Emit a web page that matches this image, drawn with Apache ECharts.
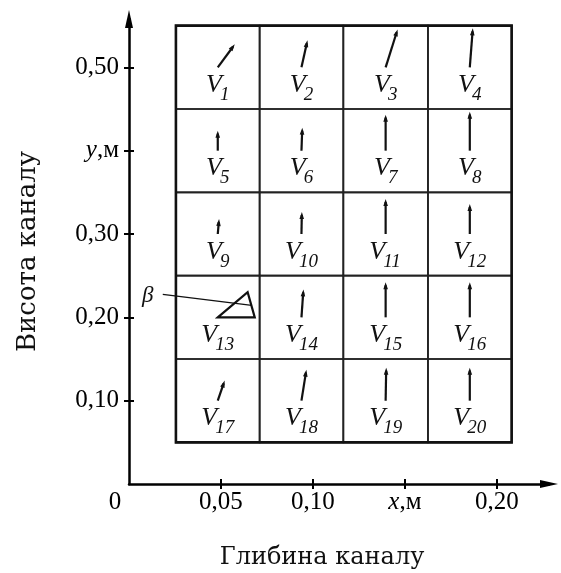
<!DOCTYPE html>
<html><head><meta charset="utf-8">
<script src="https://cdn.jsdelivr.net/npm/echarts@6/dist/echarts.min.js"></script>
<style>html,body{margin:0;padding:0;background:#fff}#c{width:561px;height:573px}</style>
</head><body><div id="c"></div>
<script>
// ---- data ----
const colEdges = [0.0255, 0.071, 0.1165, 0.1625, 0.208];   // x, m
const rowEdges = [0.55, 0.45, 0.35, 0.25, 0.15, 0.05];      // y, m (top to bottom)
const vectorNames = ['1','2','3','4','5','6','7','8','9','10','11','12','13','14','15','16','17','18','19','20'];
const speeds = [0.286, 0.277, 0.398, 0.391, 0.20, 0.23, 0.36, 0.39, 0.15, 0.22, 0.35, 0.30, 0.39, 0.28, 0.35, 0.35, 0.212, 0.314, 0.33, 0.33];
const angles = [36.5, 12.5, 17.5, 4.4, 0, 2, 0, 0, 5, 1, 0, 0, 50, 4, 0, 0, 19, 9, 1, 0]; // deg from vertical
const betaVector = '13';
const betaHorizontal = 0.37;
const xTickValues = [0.05, 0.10, 0.15, 0.20];
const xTickLabels = ['0,05', '0,10', 'x,м', '0,20'];
const yTickValues = [0.10, 0.20, 0.30, 0.40, 0.50];
const yTickLabels = ['0,10', '0,20', '0,30', 'y,м', '0,50'];
const originLabel = '0';
const xTitle = 'Глибина каналу';
const yTitle = 'Висота каналу';

// ---- build ----
const SCALE = 100; // px per velocity unit
const cells = [];
for (let i = 0; i < vectorNames.length; i++) {
  const r = Math.floor(i / 4), c = i % 4;
  cells.push([colEdges[c], colEdges[c + 1], rowEdges[r], rowEdges[r + 1], speeds[i], angles[i], vectorNames[i]]);
}
const SERIF = '"Liberation Serif", "Times New Roman", serif';
function fmt(values, labels) {
  return function (v) {
    if (Math.abs(v) < 1e-9) return '{o|' + originLabel + '}';
    for (let i = 0; i < values.length; i++) {
      if (Math.abs(values[i] - v) < 1e-7) {
        const s = labels[i];
        if (/^[xy],/.test(s)) return '{i|' + s[0] + '}' + s.slice(1);
        return s;
      }
    }
    return '';
  };
}
const labelRich = {
  i: { fontFamily: SERIF, fontStyle: 'italic', fontSize: 25, color: '#000' },
  o: { fontFamily: SERIF, fontSize: 25, color: '#000', padding: [0, 28, 0, 0] }
};

function renderCell(params, api) {
  const p0 = api.coord([api.value(0), api.value(2)]);
  const p1 = api.coord([api.value(1), api.value(3)]);
  const cx = (p0[0] + p1[0]) / 2, cy = (p0[1] + p1[1]) / 2;
  const sp = api.value(4) * SCALE, ang = api.value(5) * Math.PI / 180;
  const ux = Math.sin(ang), uy = -Math.cos(ang);
  const tip = [cx + sp * ux, cy + sp * uy];
  const name = cells[params.dataIndex][6];
  const children = [{
    type: 'rect', shape: { x: p0[0], y: p0[1], width: p1[0] - p0[0], height: p1[1] - p0[1] },
    style: { fill: null, stroke: '#222', lineWidth: 1.7 }
  }];
  if (name === betaVector) {
    const h = [cx + betaHorizontal * SCALE, cy];
    children.push({ type: 'polygon', shape: { points: [[cx, cy], tip, h] },
      style: { fill: null, stroke: '#111', lineWidth: 2.2 } });
    children.push({ type: 'line', shape: { x1: cx - 55, y1: cy - 23, x2: cx + 34, y2: cy - 12 },
      style: { stroke: '#111', lineWidth: 1.4 } });
    children.push({ type: 'text', x: cx - 70, y: cy - 21,
      style: { text: 'β', font: 'italic 23px ' + SERIF, fill: '#111', align: 'center', verticalAlign: 'middle' } });
  } else {
    const L = 7, W = 2.3;
    const bx = tip[0] - L * ux, by = tip[1] - L * uy;
    children.push({ type: 'line', shape: { x1: cx, y1: cy, x2: tip[0] - 3 * ux, y2: tip[1] - 3 * uy },
      style: { stroke: '#111', lineWidth: 2.2 } });
    children.push({ type: 'polygon', shape: { points: [tip, [bx - W * uy, by + W * ux], [bx + W * uy, by - W * ux]] },
      style: { fill: '#111', stroke: null } });
  }
  // label V with subscript
  const vW = 16, dW = 9.5;
  const total = vW + dW * name.length - 2;
  const left = cx - total / 2;
  children.push({ type: 'text', x: left, y: cy + 5,
    style: { text: 'V', font: 'italic 26px ' + SERIF, fill: '#111', align: 'left', verticalAlign: 'top' } });
  children.push({ type: 'text', x: left + vW - 2, y: cy + 18,
    style: { text: name, font: 'italic 19px ' + SERIF, fill: '#111', align: 'left', verticalAlign: 'top' } });
  return { type: 'group', children };
}

const chart = echarts.init(document.getElementById('c'), null, { renderer: 'canvas' });
chart.setOption({
  animation: false,
  backgroundColor: '#fff',
  grid: { left: 129, right: 12, top: 19, bottom: 89, containLabel: false, outerBoundsMode: 'none' },
  xAxis: [{
    type: 'value', min: 0, max: 0.2283, position: 'bottom',
    axisLine: { show: true, onZero: false, lineStyle: { color: '#000', width: 2.5 }, symbol: ['none', 'triangle'], symbolSize: [8, 18] },
    axisTick: { show: true, inside: false, length: 5, lineStyle: { color: '#000', width: 2 }, customValues: xTickValues },
    axisLabel: { show: true, customValues: [0].concat(xTickValues), formatter: fmt(xTickValues, xTickLabels), margin: 6,
      fontFamily: SERIF, fontSize: 25, color: '#000', rich: labelRich },
    splitLine: { show: false },
    name: xTitle, nameLocation: 'middle', nameGap: 62,
    nameTextStyle: { fontFamily: '"DejaVu Serif", serif', fontSize: 24, color: '#111', padding: [0, 34, 0, 0] }
  }, {
    type: 'value', min: 0, max: 0.2283, position: 'bottom',
    axisLine: { show: false }, axisLabel: { show: false }, splitLine: { show: false },
    axisTick: { show: true, inside: true, length: 5, lineStyle: { color: '#000', width: 2 }, customValues: xTickValues }
  }],
  yAxis: [{
    type: 'value', min: 0, max: 0.558, position: 'left',
    axisLine: { show: true, onZero: false, lineStyle: { color: '#000', width: 2.5 }, symbol: ['none', 'triangle'], symbolSize: [8, 18] },
    axisTick: { show: true, inside: false, length: 5, lineStyle: { color: '#000', width: 2 }, customValues: yTickValues },
    axisLabel: { show: true, customValues: yTickValues, formatter: fmt(yTickValues, yTickLabels), margin: 10,
      fontFamily: SERIF, fontSize: 25, color: '#000', rich: labelRich },
    splitLine: { show: false },
    name: yTitle, nameLocation: 'middle', nameGap: 88, nameRotate: 90,
    nameTextStyle: { fontFamily: '"DejaVu Serif", serif', fontSize: 26, color: '#111' }
  }, {
    type: 'value', min: 0, max: 0.558, position: 'left',
    axisLine: { show: false }, axisLabel: { show: false }, splitLine: { show: false },
    axisTick: { show: true, inside: true, length: 5, lineStyle: { color: '#000', width: 2 }, customValues: yTickValues }
  }],
  series: [{
    type: 'custom', xAxisIndex: 0, yAxisIndex: 0, data: cells, renderItem: renderCell, clip: false, silent: true
  }, {
    type: 'custom', xAxisIndex: 0, yAxisIndex: 0, silent: true, clip: false,
    data: [[colEdges[0], colEdges[colEdges.length - 1], rowEdges[0], rowEdges[rowEdges.length - 1]]],
    renderItem: function (params, api) {
      const p0 = api.coord([api.value(0), api.value(2)]);
      const p1 = api.coord([api.value(1), api.value(3)]);
      return { type: 'rect', shape: { x: p0[0], y: p0[1], width: p1[0] - p0[0], height: p1[1] - p0[1] },
        style: { fill: null, stroke: '#111', lineWidth: 2.6 } };
    }
  }]
});
</script></body></html>
